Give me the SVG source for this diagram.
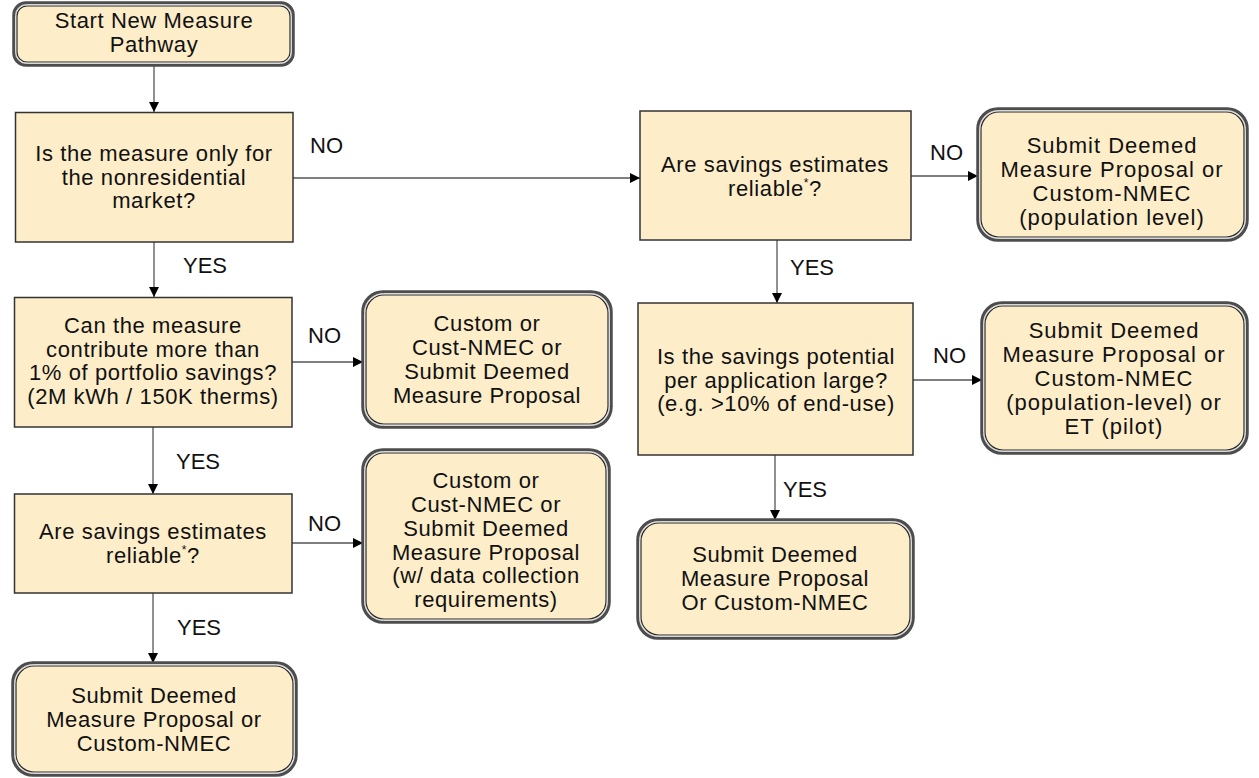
<svg xmlns="http://www.w3.org/2000/svg" width="1259" height="778" viewBox="0 0 1259 778">
<defs>
<marker id="arr" markerWidth="10" markerHeight="10" refX="10" refY="5" orient="auto" markerUnits="userSpaceOnUse">
<path d="M0,0 L10,5 L0,10 Z" fill="#000"/>
</marker>
</defs>
<style>
text{font-family:"Liberation Sans",Arial,sans-serif;font-size:22px;letter-spacing:0.6px;fill:#111;text-anchor:middle}
.lbl{text-anchor:start;letter-spacing:0}
.big{letter-spacing:1px}
.dec{fill:#FDEDC9;stroke:#333;stroke-width:1.5}
.o1{fill:none;stroke:#4d4d4d;stroke-width:3.5}
.o2{fill:none;stroke:#d8d8d8;stroke-width:1}
.o3{fill:#FDEDC9;stroke:#2a2a2a;stroke-width:1.2}
.c{stroke:#555;stroke-width:1.3;fill:none;marker-end:url(#arr)}
.sup{font-size:12px}
</style>
<rect width="1259" height="778" fill="#fff"/>
<g id="connectors">
<line class="c" x1="154" y1="65" x2="154" y2="112"/>
<line class="c" x1="154" y1="242" x2="154" y2="297"/>
<line class="c" x1="292" y1="362" x2="363" y2="362"/>
<line class="c" x1="153" y1="427" x2="153" y2="494"/>
<line class="c" x1="292" y1="543" x2="363" y2="543"/>
<line class="c" x1="153" y1="593" x2="153" y2="663"/>
<line class="c" x1="293" y1="178" x2="640" y2="178"/>
<line class="c" x1="911" y1="176" x2="978" y2="176"/>
<line class="c" x1="777" y1="240" x2="777" y2="303"/>
<line class="c" x1="913" y1="380" x2="982" y2="380"/>
<line class="c" x1="775" y1="455" x2="775" y2="520"/>
<text class="lbl" x="310" y="153">NO</text>
<text class="lbl" x="183" y="273">YES</text>
<text class="lbl" x="308" y="343">NO</text>
<text class="lbl" x="176" y="469">YES</text>
<text class="lbl" x="308" y="531">NO</text>
<text class="lbl" x="177" y="635">YES</text>
<text class="lbl" x="930" y="160">NO</text>
<text class="lbl" x="790" y="275">YES</text>
<text class="lbl" x="933" y="363">NO</text>
<text class="lbl" x="783" y="497">YES</text>
</g>
<g id="start">
<rect class="o1" x="14" y="3" width="279" height="62" rx="12"/>
<rect class="o2" x="15.5" y="4.5" width="276" height="59" rx="11"/>
<rect class="o3" x="17" y="6" width="273" height="56" rx="10"/>
<text x="154" y="28">Start New Measure</text>
<text x="154" y="52">Pathway</text>
</g>
<g id="q-nonres">
<rect class="dec" x="15.5" y="112.5" width="277.5" height="129.5"/>
<text x="154" y="161">Is the measure only for</text>
<text x="154" y="184.5">the nonresidential</text>
<text x="154" y="208">market?</text>
</g>
<g id="q-contribute">
<rect class="dec" x="14.5" y="297.5" width="277.5" height="129.5"/>
<text x="153" y="333">Can the measure</text>
<text x="153" y="356.5">contribute more than</text>
<text x="153" y="380">1% of portfolio savings?</text>
<text x="153" y="403.5">(2M kWh / 150K therms)</text>
</g>
<g id="custom1">
<rect class="o1" x="363" y="292" width="248" height="135" rx="20"/>
<rect class="o2" x="364.5" y="293.5" width="245" height="132" rx="19"/>
<rect class="o3" x="366" y="295" width="242" height="129" rx="18"/>
<text x="487" y="331">Custom or</text>
<text x="487" y="355">Cust-NMEC or</text>
<text x="487" y="379">Submit Deemed</text>
<text x="487" y="403">Measure Proposal</text>
</g>
<g id="q-reliable1">
<rect class="dec" x="14.5" y="494" width="277.5" height="99"/>
<text x="153" y="539">Are savings estimates</text>
<text x="153" y="563">reliable<tspan class="sup" dy="-9">*</tspan><tspan dy="9">?</tspan></text>
</g>
<g id="custom2">
<rect class="o1" x="363" y="450" width="246" height="172" rx="20"/>
<rect class="o2" x="364.5" y="451.5" width="243" height="169" rx="19"/>
<rect class="o3" x="366" y="453" width="240" height="166" rx="18"/>
<text x="486" y="488">Custom or</text>
<text x="486" y="512">Cust-NMEC or</text>
<text x="486" y="536">Submit Deemed</text>
<text x="486" y="559.5">Measure Proposal</text>
<text x="486" y="583">(w/ data collection</text>
<text x="486" y="607">requirements)</text>
</g>
<g id="final-left">
<rect class="o1" x="13" y="663" width="283" height="112" rx="20"/>
<rect class="o2" x="14.5" y="664.5" width="280" height="109" rx="19"/>
<rect class="o3" x="16" y="666" width="277" height="106" rx="18"/>
<text x="154" y="703">Submit  Deemed</text>
<text x="154" y="727">Measure Proposal or</text>
<text x="154" y="751">Custom-NMEC</text>
</g>
<g id="q-reliable2">
<rect class="dec" x="640" y="111" width="271" height="129"/>
<text x="775" y="172">Are savings estimates</text>
<text x="775" y="196">reliable<tspan class="sup" dy="-9">*</tspan><tspan dy="9">?</tspan></text>
</g>
<g id="right1">
<rect class="o1" x="978" y="109" width="269" height="131" rx="20"/>
<rect class="o2" x="979.5" y="110.5" width="266" height="128" rx="19"/>
<rect class="o3" x="981" y="112" width="263" height="125" rx="18"/>
<text class="big" x="1112" y="153">Submit  Deemed</text>
<text class="big" x="1112" y="177">Measure Proposal or</text>
<text class="big" x="1112" y="201">Custom-NMEC</text>
<text class="big" x="1112" y="225">(population  level)</text>
</g>
<g id="q-potential">
<rect class="dec" x="638" y="303" width="275" height="152"/>
<text x="776" y="364">Is the savings potential</text>
<text x="776" y="387.5">per application large?</text>
<text x="776" y="411">(e.g. &gt;10% of end-use)</text>
</g>
<g id="right2">
<rect class="o1" x="982" y="303" width="265" height="150" rx="20"/>
<rect class="o2" x="983.5" y="304.5" width="262" height="147" rx="19"/>
<rect class="o3" x="985" y="306" width="259" height="144" rx="18"/>
<text class="big" x="1114" y="338">Submit  Deemed</text>
<text class="big" x="1114" y="362">Measure Proposal or</text>
<text class="big" x="1114" y="386">Custom-NMEC</text>
<text class="big" x="1114" y="410">(population-level)  or</text>
<text class="big" x="1114" y="434">ET (pilot)</text>
</g>
<g id="final-mid">
<rect class="o1" x="638" y="520" width="275" height="118" rx="20"/>
<rect class="o2" x="639.5" y="521.5" width="272" height="115" rx="19"/>
<rect class="o3" x="641" y="523" width="269" height="112" rx="18"/>
<text x="775" y="562">Submit  Deemed</text>
<text x="775" y="586">Measure Proposal</text>
<text x="775" y="610">Or Custom-NMEC</text>
</g>
</svg>
